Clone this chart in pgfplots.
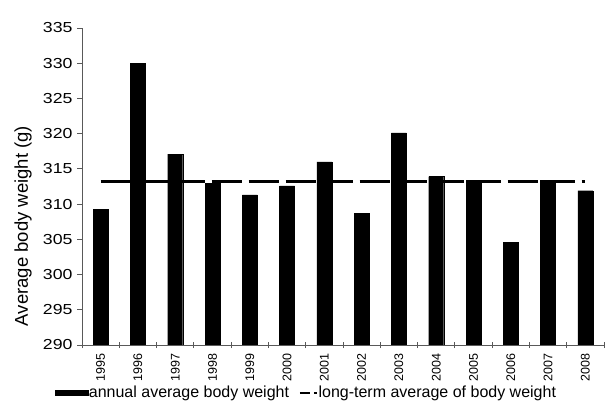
\documentclass[border=0pt]{standalone}
\usepackage{fontspec}
\setmainfont{Liberation Sans}
\newfontfamily\tickfont[FakeStretch=1.22]{Liberation Sans}
\usepackage{pgfplots}
\pgfplotsset{compat=1.18}
\begin{document}
\begin{tikzpicture}
\path[use as bounding box] (0,0) rectangle (606bp,403bp);
\begin{axis}[
  at={(82bp,58bp)}, anchor=south west,
  scale only axis, width=522bp, height=317bp,
  xmin=-0.5, xmax=13.5, ymin=290, ymax=335,
  axis x line=bottom, axis y line=left,
  axis line style={-, black!65, line width=0.9bp},
  ytick={290,295,...,335},
  xtick={0,...,13},
  xticklabels={1995,1996,1997,1998,1999,2000,2001,2002,2003,2004,2005,2006,2007,2008},
  major x tick style={draw=none},
  minor xtick={-0.5,0.5,...,13.5},
  minor tick length=6bp,
  minor x tick style={black!65, line width=0.9bp, yshift=3bp},
  major tick length=5bp,
  tick align=outside,
  y tick style={black!65, line width=0.9bp},
  /pgf/number format/assume math mode=true,
  yticklabel style={font=\tickfont\fontsize{14.5bp}{18bp}\selectfont, xshift=-1bp},
  xticklabel style={font=\fontsize{12.5bp}{15bp}\selectfont, rotate=90, anchor=east, yshift=0bp},
  ylabel={Average body weight (g)},
  ylabel style={font=\fontsize{18.5bp}{22bp}\selectfont, at={(axis description cs:-0.113,0.375)}, anchor=center},
  legend columns=2,
  legend style={draw=none, fill=none, inner sep=0pt, outer sep=0pt,
    at={(axis description cs:-0.0517,-0.151)}, anchor=west,
    font=\fontsize{16bp}{19bp}\selectfont,
    nodes={inner sep=0.5bp},
    /tikz/every even column/.append style={column sep=9bp}},
]
\addplot[ybar, bar width=15bp, fill=black, draw=black,
  legend image code/.code={\fill[black] (0bp,-2.5bp) rectangle (33bp,2.5bp);}]
  coordinates {(0,309.3) (1,330.0) (2,317.1) (3,312.9) (4,311.3) (5,312.6) (6,316.0)
               (7,308.7) (8,320.1) (9,313.9) (10,313.4) (11,304.6) (12,313.4) (13,311.9)};
\addlegendentry{annual average body weight}
\addplot[black, line width=2.5bp, dash pattern=on 30bp off 7bp,
  legend image code/.code={\draw[black, line width=2.5bp, dash pattern=on 10bp off 4bp on 3bp off 10bp] (0bp,0bp) -- (17bp,0bp);}]
  coordinates {(0,313.2) (13,313.2)};
\addlegendentry{long-term average of body weight}
\end{axis}
\end{tikzpicture}
\end{document}
